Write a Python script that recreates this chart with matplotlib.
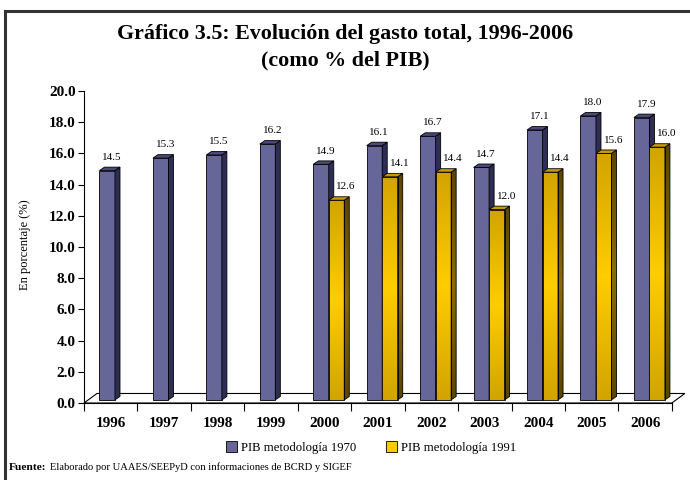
import numpy as np
import matplotlib
matplotlib.use('Agg')
import matplotlib.pyplot as plt
from matplotlib.patches import Polygon, Rectangle, Patch
from matplotlib.lines import Line2D

plt.rcParams['font.family'] = ['Liberation Serif', 'DejaVu Serif']

# data
years = ['1996', '1997', '1998', '1999', '2000', '2001', '2002', '2003', '2004', '2005', '2006']
pib_1970 = [14.5, 15.3, 15.5, 16.2, 14.9, 16.1, 16.7, 14.7, 17.1, 18.0, 17.9]
pib_1991 = [None, None, None, None, 12.6, 14.1, 14.4, 12.0, 14.4, 15.6, 16.0]
yticks = [0, 2, 4, 6, 8, 10, 12, 14, 16, 18, 20]

fig = plt.figure(figsize=(6.9, 4.8), dpi=100)
ax = fig.add_axes([0.1217, 0.1604, 0.852, 0.65])

# 3d look parameters (data units)
bw = 0.29        # bar width
ddx, ddy = 0.094, 0.22   # bar depth offset
fdx, fdy = 0.243, 0.61   # floor depth
base = 0.2       # bar bottom
lift = 0.4       # bar top sits a little above its value

# floor
x0, x1 = -0.5, len(years) - 0.5
floor = Polygon([(x0, 0), (x1, 0), (x1 + fdx, fdy), (x0 + fdx, fdy)], closed=True,
                facecolor='white', edgecolor='black', lw=0.8, clip_on=False, zorder=1)
ax.add_patch(floor)

grad = np.concatenate([np.linspace(0, 1, 50), np.linspace(1, 0, 50)])
ycmap = matplotlib.colors.LinearSegmentedColormap.from_list('y', ['#D2A400', '#FFCC00'])
scmap = matplotlib.colors.LinearSegmentedColormap.from_list('s', ['#5A4500', '#8A6C00'])


def bar3d(xl, v, front, side, top, z, gradient=False):
    xr = xl + bw
    yt = v + lift
    sidepoly = Polygon([(xr, base), (xr + ddx, base + ddy), (xr + ddx, yt + ddy), (xr, yt)],
                       closed=True, facecolor='none' if gradient else side,
                       edgecolor='black', lw=0.6, zorder=z + 0.2)
    ax.add_patch(sidepoly)
    if gradient:
        ax.imshow(grad.reshape(-1, 1), cmap=ycmap, extent=[xl, xr, base, yt],
                  aspect='auto', zorder=z, origin='lower')
        im = ax.imshow(grad.reshape(-1, 1), cmap=scmap, extent=[xr, xr + ddx, base, yt + ddy],
                       aspect='auto', zorder=z + 0.1, origin='lower')
        im.set_clip_path(sidepoly)
        ax.add_patch(Rectangle((xl, base), bw, yt - base, facecolor='none',
                               edgecolor='black', lw=0.6, zorder=z + 0.2))
    else:
        ax.add_patch(Rectangle((xl, base), bw, yt - base, facecolor=front,
                               edgecolor='black', lw=0.6, zorder=z))
    ax.add_patch(Polygon([(xl, yt), (xr, yt), (xr + ddx, yt + ddy), (xl + ddx, yt + ddy)],
                         closed=True, facecolor=top, edgecolor='black', lw=0.6, zorder=z + 0.3))


for i, (a, b) in enumerate(zip(pib_1970, pib_1991)):
    xl = i - 0.21
    bar3d(xl, a, '#666699', '#2E2E55', '#4A4A7A', 3)
    ax.text(xl + bw / 2 + 0.09, a + 1.25, f'{a:.1f}', ha='center', va='center',
            fontsize=8, zorder=10)
    if b is not None:
        bar3d(xl + bw, b, None, None, '#C89A00', 5, gradient=True)
        ax.text(xl + bw * 1.5 + 0.18, b + 1.25, f'{b:.1f}', ha='center', va='center',
                fontsize=8, zorder=10)

ax.set_xlim(x0, x1)
ax.set_ylim(0, 20)

for s in ['top', 'right']:
    ax.spines[s].set_visible(False)
ax.spines['left'].set_linewidth(0.8)
ax.spines['bottom'].set_linewidth(0.8)

ax.set_yticks(yticks)
ax.set_yticklabels([f'{t:.1f}' for t in yticks], fontsize=11, fontweight='bold')
ax.tick_params(axis='y', length=4, width=0.8, pad=2)

ax.set_xticks(range(len(years)))
ax.set_xticklabels(years, fontsize=11, fontweight='bold')
ax.set_xticks(np.arange(-0.5, len(years), 1), minor=True)
ax.tick_params(axis='x', which='major', length=0, pad=10)
ax.tick_params(axis='x', which='minor', length=6, width=0.8)

ax.set_ylabel('En porcentaje (%)', fontsize=9)
ax.yaxis.set_label_coords(-0.09, 0.506)

fig.text(0.5, 0.93, 'Gráfico 3.5: Evolución del gasto total, 1996-2006', ha='center',
         va='center', fontsize=15.8, fontweight='bold')
fig.text(0.5, 0.875, '(como % del PIB)', ha='center', va='center', fontsize=15.8,
         fontweight='bold')

handles = [Patch(facecolor='#666699', edgecolor='black', lw=0.6),
           Patch(facecolor='#FFCC00', edgecolor='black', lw=0.6)]
fig.legend(handles, ['PIB metodología 1970', 'PIB metodología 1991'], loc='center',
           bbox_to_anchor=(0.538, 0.068), ncol=2, frameon=False, fontsize=9.2,
           handlelength=0.9, handleheight=0.9, handletextpad=0.3, columnspacing=2.3)

t1 = fig.text(0.013, 0.021, 'Fuente:', fontsize=8.2, fontweight='bold', va='baseline')
ax.annotate('Elaborado por UAAES/SEEPyD con informaciones de BCRD y SIGEF', xy=(1, 0),
            xycoords=t1, xytext=(2.5, 0), textcoords='offset points', va='bottom',
            fontsize=7.6, annotation_clip=False)

# frame around the chart (left and top visible)
fig.add_artist(Line2D([0.0072, 0.0072], [-0.01, 0.977], transform=fig.transFigure,
                      color='#333333', lw=2.2))
fig.add_artist(Line2D([0.0072, 1.01], [0.977, 0.977], transform=fig.transFigure,
                      color='#333333', lw=2.2))

fig.savefig('out.png', dpi=100)
